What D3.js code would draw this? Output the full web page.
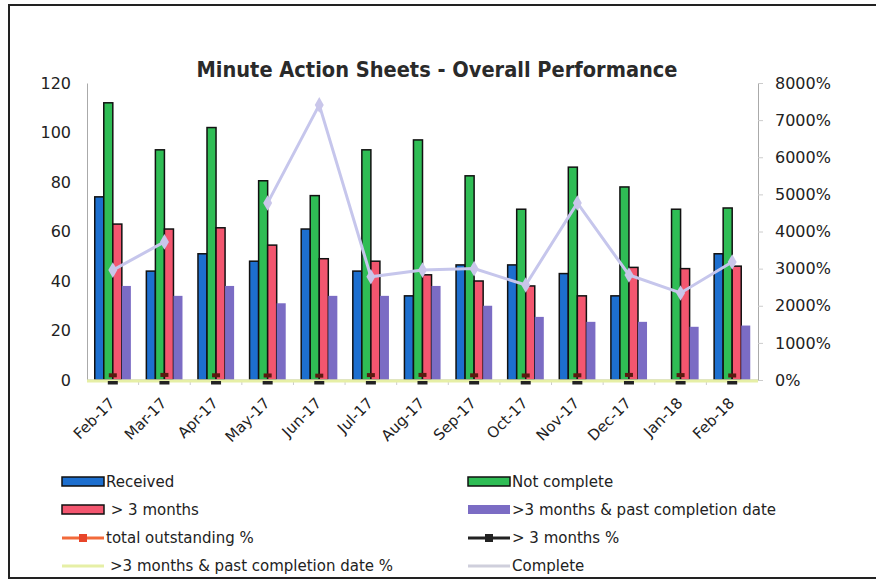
<!DOCTYPE html>
<html>
<head>
<meta charset="utf-8">
<script src="https://cdn.jsdelivr.net/npm/d3@7"></script>
<style>
  body { margin: 0; background: #fff; }
  svg { display: block; font-family: "DejaVu Sans", Verdana, sans-serif; }
</style>
</head>
<body>
<div id="chart-container"></div>
<script>
const months = ["Feb-17", "Mar-17", "Apr-17", "May-17", "Jun-17", "Jul-17", "Aug-17",
    "Sep-17", "Oct-17", "Nov-17", "Dec-17", "Jan-18", "Feb-18"];
const received = [74, 44, 51, 48, 61, 44, 34, 46.5, 46.5, 43, 34, 0, 51];
const notComplete = [112, 93, 102, 80.5, 74.5, 93, 97, 82.5, 69, 86, 78, 69, 69.5];
const overThree = [63, 61, 61.5, 54.5, 49, 48, 42.5, 40, 38, 34, 45.5, 45, 46];
const pastDate = [38, 34, 38, 31, 34, 34, 38, 30, 25.5, 23.5, 23.5, 21.5, 22];
// percent series (right axis, values in %)
const totalOutstandingPct = [100, 110, 100, 95, 90, 105, 110, 100, 95, 100, 110, 105, 95];
const overThreePct = [0, 0, 0, 0, 0, 0, 0, 0, 0, 0, 0, 0, 0];
const pastDatePct = [0, 0, 0, 0, 0, 0, 0, 0, 0, 0, 0, 0, 0];
const completePct = [2960, 3720, null, 4770, 7410, 2780, 2960, 3000, 2560, 4770, 2830, 2345, 3180];
const leftTicks = [0, 20, 40, 60, 80, 100, 120];
const rightTicks = [0, 1000, 2000, 3000, 4000, 5000, 6000, 7000, 8000];

const width = 876, height = 580;
const margin = ({top: 83, right: 118, bottom: 200, left: 87});

const barSeries = [
    {name: "Received", values: received, fill: "#1d6fcf", stroke: "#111"},
    {name: "Not complete", values: notComplete, fill: "#2fbd55", stroke: "#111"},
    {name: " > 3 months", values: overThree, fill: "#f3566f", stroke: "#111"},
    {name: ">3 months & past completion date", values: pastDate, fill: "#7b6cc4", stroke: null}
];

const svg = d3.select("#chart-container")
    .append("svg")
    .attr("width", width)
    .attr("height", height);

// outer frame
svg.append("rect")
    .attr("x", 9).attr("y", 5)
    .attr("width", 890).attr("height", 573)
    .attr("fill", "none")
    .attr("stroke", "#222")
    .attr("stroke-width", 2);

const x0 = d3.scaleBand()
    .domain(months)
    .range([margin.left, width - margin.right])
    .paddingInner(0.3)
    .paddingOuter(0.15);

const x1 = d3.scaleBand()
    .domain(barSeries.map(d => d.name))
    .range([0, x0.bandwidth()]);

const y = d3.scaleLinear()
    .domain([0, 120])
    .range([height - margin.bottom, margin.top]);

const yR = d3.scaleLinear()
    .domain([0, 8000])
    .range([height - margin.bottom, margin.top]);

const cx = m => x0(m) + x0.bandwidth() / 2;

// title
svg.append("text")
    .attr("x", 437).attr("y", 77)
    .attr("text-anchor", "middle")
    .attr("font-family", "'DejaVu Sans Condensed', 'DejaVu Sans', sans-serif")
    .attr("font-size", 21)
    .attr("font-weight", "bold")
    .attr("fill", "#2a2a2a")
    .attr("textLength", 481)
    .attr("lengthAdjust", "spacingAndGlyphs")
    .text("Minute Action Sheets - Overall Performance");

// axes
const leftAxis = svg.append("g")
    .attr("transform", `translate(${margin.left},0)`)
    .call(d3.axisLeft(y).tickValues(leftTicks).tickSize(0).tickPadding(16));
leftAxis.select(".domain").attr("stroke", "#aaa");
leftAxis.selectAll("text").attr("font-size", 16).attr("fill", "#222")
    .attr("font-family", "DejaVu Sans");

const rightAxis = svg.append("g")
    .attr("transform", `translate(${width - margin.right},0)`)
    .call(d3.axisRight(yR).tickValues(rightTicks).tickSize(5).tickPadding(12)
        .tickFormat(d => d + "%"));
rightAxis.select(".domain").attr("stroke", "#aaa");
rightAxis.selectAll("line").attr("stroke", "#ccc");
rightAxis.selectAll("text").attr("font-size", 16).attr("fill", "#222")
    .attr("font-family", "DejaVu Sans");

// category ticks between groups
svg.append("g")
    .selectAll("line")
    .data(months.slice(1))
    .join("line")
    .attr("x1", d => x0(d) - x0.step() * x0.paddingInner() / 2)
    .attr("x2", d => x0(d) - x0.step() * x0.paddingInner() / 2)
    .attr("y1", y(0)).attr("y2", y(0) + 5)
    .attr("stroke", "#ccc");

// bars
svg.append("g")
    .selectAll("g")
    .data(barSeries)
    .join("g")
    .attr("fill", d => d.fill)
    .attr("stroke", d => d.stroke || "none")
    .attr("stroke-width", 1.5)
    .selectAll("rect")
    .data(s => s.values.map((v, i) => ({name: s.name, month: months[i], value: v})))
    .join("rect")
    .filter(d => d.value > 0)
    .attr("x", d => x0(d.month) + x1(d.name))
    .attr("y", d => y(d.value))
    .attr("width", x1.bandwidth())
    .attr("height", d => y(0) - y(d.value));

svg.append("line")
    .attr("x1", margin.left).attr("x2", width - margin.right)
    .attr("y1", y(0)).attr("y2", y(0))
    .attr("stroke", "#bbb");

// percent lines
const pts = arr => arr.map((v, i) => ({m: months[i], v: v}));
const line = d3.line()
    .defined(d => d.v !== null)
    .x(d => cx(d.m))
    .y(d => yR(d.v));

// >3 months & past completion date % runs along the baseline
const flatLine = d3.line()
    .x((d, i) => i === 0 ? margin.left : cx(d.m))
    .y(d => yR(d.v) + 1);
svg.append("path")
    .attr("fill", "none")
    .attr("stroke", "#e6efa6")
    .attr("stroke-width", 3)
    .attr("d", flatLine(pts(pastDatePct)) + "L" + (width - margin.right) + "," + (yR(0) + 1));

// total outstanding % markers
svg.append("g")
    .selectAll("rect")
    .data(pts(totalOutstandingPct))
    .join("rect")
    .attr("x", d => cx(d.m) - 4)
    .attr("y", d => yR(d.v) - 3)
    .attr("width", 8).attr("height", 4)
    .attr("fill", "#5a1a10");

// > 3 months % markers
svg.append("g")
    .selectAll("rect")
    .data(pts(overThreePct))
    .join("rect")
    .attr("x", d => cx(d.m) - 5)
    .attr("y", d => yR(d.v) + 1)
    .attr("width", 10).attr("height", 3.5)
    .attr("fill", "#222");

svg.append("path")
    .datum(pts(completePct))
    .attr("fill", "none")
    .attr("stroke", "#c6c6ec")
    .attr("stroke-width", 3)
    .attr("d", line);
svg.append("g")
    .selectAll("path")
    .data(pts(completePct).filter(d => d.v !== null))
    .join("path")
    .attr("transform", d => `translate(${cx(d.m)},${yR(d.v)})`)
    .attr("d", d3.symbol(d3.symbolDiamond, 70))
    .attr("fill", "#c9c6ea");

// x labels
svg.append("g")
    .selectAll("text")
    .data(months)
    .join("text")
    .attr("transform", d => `translate(${cx(d) + 3},${y(0) + 24}) rotate(-45)`)
    .attr("text-anchor", "end")
    .attr("font-size", 15)
    .attr("fill", "#222")
    .text(d => d);

// legend
const legendItems = [
    {name: "Received", type: "bar", fill: "#1d6fcf", stroke: "#111", col: 0, row: 0},
    {name: "Not complete", type: "bar", fill: "#2fbd55", stroke: "#111", col: 1, row: 0},
    {name: " > 3 months", type: "bar", fill: "#f3566f", stroke: "#111", col: 0, row: 1},
    {name: ">3 months & past completion date", type: "bar", fill: "#7b6cc4", stroke: null, col: 1, row: 1},
    {name: "total outstanding %", type: "line", stroke: "#f26a3a", marker: "#e8452a", col: 0, row: 2},
    {name: "> 3 months %", type: "line", stroke: "#222", marker: "#222", col: 1, row: 2},
    {name: ">3 months & past completion date %", type: "line", stroke: "#e6efa6", marker: null, col: 0, row: 3},
    {name: "Complete", type: "line", stroke: "#cfcfdc", marker: null, col: 1, row: 3}
];
const colX = [62, 468];
const rowY = [482, 510, 538, 566];

const lg = svg.append("g")
    .selectAll("g")
    .data(legendItems)
    .join("g")
    .attr("transform", d => `translate(${colX[d.col]},${rowY[d.row]})`);

lg.filter(d => d.type === "bar")
    .append("rect")
    .attr("x", 0).attr("y", -5)
    .attr("width", 42).attr("height", 9)
    .attr("fill", d => d.fill)
    .attr("stroke", d => d.stroke || "none")
    .attr("stroke-width", 1.5);

lg.filter(d => d.type === "line")
    .append("line")
    .attr("x1", 0).attr("x2", 42)
    .attr("stroke", d => d.stroke)
    .attr("stroke-width", 3);

lg.filter(d => d.type === "line" && d.marker)
    .append("rect")
    .attr("x", 17).attr("y", -4)
    .attr("width", 8).attr("height", 8)
    .attr("fill", d => d.marker);

lg.append("text")
    .attr("x", d => d.name.startsWith(">3 months & past completion date %") ? 48 : 44)
    .attr("y", 5)
    .attr("font-size", 15)
    .attr("fill", "#222")
    .style("white-space", "pre")
    .text(d => d.name);
</script>
</body>
</html>
